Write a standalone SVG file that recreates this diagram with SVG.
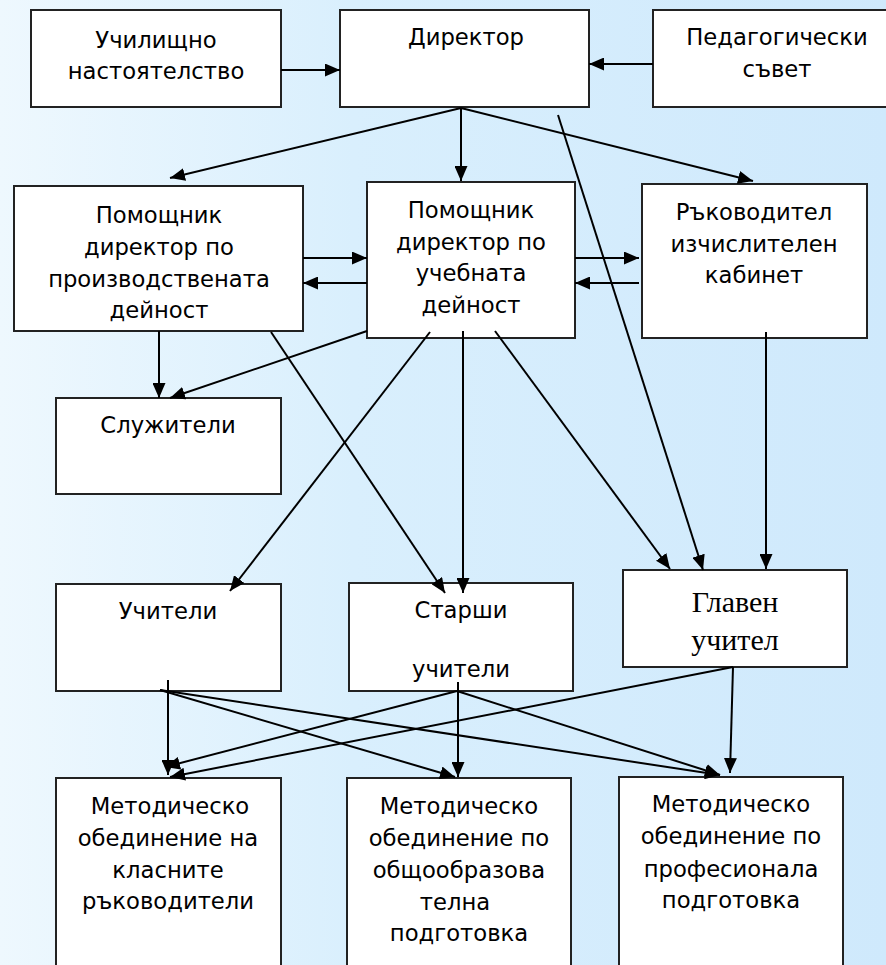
<svg xmlns="http://www.w3.org/2000/svg" width="886" height="965" viewBox="0 0 886 965">
<defs>
<linearGradient id="bg" x1="0" y1="0" x2="886" y2="0" gradientUnits="userSpaceOnUse">
<stop offset="0" stop-color="#eef8fe"/>
<stop offset="0.4" stop-color="#d9effd"/>
<stop offset="1" stop-color="#cfe9fc"/>
</linearGradient>
<marker id="ah" markerUnits="userSpaceOnUse" markerWidth="15" markerHeight="13" refX="15" refY="6.5" orient="auto" viewBox="0 0 15 13">
<path d="M0,0 L15,6.5 L0,13 z" fill="#000"/>
</marker>
</defs>
<style>
.box{fill:#fff;stroke:#222;stroke-width:2}
.t{font-family:"DejaVu Sans","Liberation Sans",sans-serif;font-size:22.7px;fill:#000;text-anchor:middle}
.ts{font-family:"Liberation Serif","Times New Roman",serif;font-size:30px;fill:#000;text-anchor:middle}
.c line{stroke:#000;stroke-width:2}
.a{marker-end:url(#ah)}
</style>
<rect x="0" y="0" width="886" height="965" fill="url(#bg)"/>

<g id="n-nastoyatelstvo"><rect class="box" x="31" y="10" width="250" height="97"/>
<text class="t" x="156" y="48">Училищно</text><text class="t" x="156" y="79">настоятелство</text></g>
<g id="n-direktor"><rect class="box" x="340" y="10" width="249" height="97"/>
<text class="t" x="466" y="45">Директор</text></g>
<g id="n-pedsavet"><rect class="box" x="653" y="10" width="240" height="97"/>
<text class="t" x="777" y="45">Педагогически</text><text class="t" x="777" y="77">съвет</text></g>

<g id="n-pomprod"><rect class="box" x="14" y="186" width="289" height="145"/>
<text class="t" x="159" y="223">Помощник</text><text class="t" x="159" y="255">директор по</text><text class="t" x="159" y="287">производствената</text><text class="t" x="159" y="318">дейност</text></g>
<g id="n-pomucheb"><rect class="box" x="367" y="182" width="208" height="156"/>
<text class="t" x="471" y="218">Помощник</text><text class="t" x="471" y="250">директор по</text><text class="t" x="471" y="281">учебната</text><text class="t" x="471" y="313">дейност</text></g>
<g id="n-rakovoditel"><rect class="box" x="642" y="184" width="225" height="154"/>
<text class="t" x="754" y="220">Ръководител</text><text class="t" x="754" y="252">изчислителен</text><text class="t" x="754" y="283">кабинет</text></g>

<g id="n-sluzhiteli"><rect class="box" x="56" y="398" width="225" height="96"/>
<text class="t" x="168" y="433">Служители</text></g>

<g id="n-uchiteli"><rect class="box" x="56" y="584" width="225" height="107"/>
<text class="t" x="168" y="619">Учители</text></g>
<g id="n-starshi"><rect class="box" x="349" y="583" width="224" height="108"/>
<text class="t" x="461" y="618">Старши</text><text class="t" x="461" y="677">учители</text></g>
<g id="n-glaven"><rect class="box" x="623" y="570" width="224" height="97"/>
<text class="ts" x="735" y="612">Главен</text><text class="ts" x="735" y="650">учител</text></g>

<g id="n-mo1"><rect class="box" x="56" y="778" width="225" height="200"/>
<text class="t" x="170" y="814">Методическо</text><text class="t" x="168" y="846">обединение на</text><text class="t" x="168" y="878">класните</text><text class="t" x="168" y="909">ръководители</text></g>
<g id="n-mo2"><rect class="box" x="347" y="778" width="224" height="200"/>
<text class="t" x="459" y="814">Методическо</text><text class="t" x="459" y="846">обединение по</text><text class="t" x="459" y="878">общообразова</text><text class="t" x="455" y="910">телна</text><text class="t" x="459" y="941">подготовка</text></g>
<g id="n-mo3"><rect class="box" x="619" y="777" width="224" height="200"/>
<text class="t" x="731" y="812">Методическо</text><text class="t" x="731" y="844">обединение по</text><text class="t" x="731" y="877">професионала</text><text class="t" x="731" y="908">подготовка</text></g>

<g id="connectors" class="c">
<line class="a" x1="281" y1="70" x2="340" y2="70"/>
<line class="a" x1="653" y1="64" x2="589" y2="64"/>
<line class="a" x1="461" y1="108" x2="170" y2="178"/>
<line class="a" x1="461" y1="108" x2="461" y2="181"/>
<line class="a" x1="461" y1="108" x2="753" y2="181"/>
<line class="a" x1="558" y1="115" x2="703" y2="570"/>
<line class="a" x1="303" y1="258" x2="367" y2="258"/>
<line class="a" x1="367" y1="283" x2="303" y2="283"/>
<line class="a" x1="575" y1="258" x2="639" y2="258"/>
<line class="a" x1="639" y1="283" x2="575" y2="283"/>
<line class="a" x1="159" y1="331" x2="159" y2="398"/>
<line class="a" x1="367" y1="331" x2="170" y2="398"/>
<line class="a" x1="463" y1="331" x2="463" y2="593"/>
<line class="a" x1="495" y1="331" x2="670" y2="569"/>
<line class="a" x1="430" y1="332" x2="230" y2="591"/>
<line class="a" x1="271" y1="332" x2="445" y2="593"/>
<line class="a" x1="766" y1="332" x2="766" y2="569"/>
<line class="a" x1="168" y1="680" x2="168" y2="775"/>
<line class="a" x1="160" y1="690" x2="455" y2="777"/>
<line class="a" x1="160" y1="690" x2="720" y2="775"/>
<line class="a" x1="457" y1="691" x2="165" y2="767"/>
<line class="a" x1="458" y1="682" x2="458" y2="777"/>
<line class="a" x1="457" y1="691" x2="720" y2="775"/>
<line class="a" x1="733" y1="667" x2="170" y2="777"/>
<line class="a" x1="733" y1="667" x2="730" y2="773"/>
</g>
</svg>
